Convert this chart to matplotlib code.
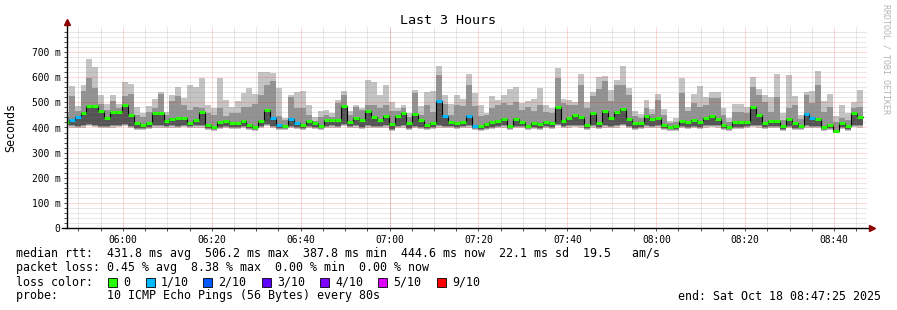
import numpy as np
import matplotlib
matplotlib.use("Agg")
import matplotlib.pyplot as plt
from matplotlib.patches import Rectangle

plt.rcParams['font.family'] = 'DejaVu Sans Mono'

W, H = 897, 310

# median rtt per 80 s step (ms), oldest first
rtt_median = [
    422, 430, 443, 456, 485, 485, 464, 439, 463, 463, 488, 449, 416, 410, 418, 457, 457, 424, 434, 439, 439, 419, 428,
    463, 410, 402, 421, 427, 418, 416, 427, 410, 402, 424, 471, 439, 410, 407, 433, 416, 408, 427, 416, 405, 429, 429,
    428, 487, 422, 439, 428, 465, 441, 429, 447, 412, 447, 457, 416, 455, 430, 410, 418, 505, 447, 422, 416, 422, 447,
    406, 404, 412, 420, 427, 432, 407, 435, 422, 407, 418, 412, 422, 416, 481, 427, 439, 449, 443, 410, 456, 416,
    465, 439, 463, 473, 435, 416, 418, 447, 435, 437, 410, 402, 407, 427, 420, 428, 420, 439, 447, 435, 410, 402, 420,
    420, 422, 481, 449, 416, 427, 427, 404, 435, 418, 407, 452, 437, 435, 401, 410, 386, 416, 404, 456, 443,
]
# slowest ping per step (top of the smoke)
rtt_max = [
    463, 565, 485, 569, 672, 640, 529, 494, 529, 494, 582, 574, 481, 456, 485, 513, 542, 463, 529, 561, 516, 569, 560,
    598, 489, 476, 598, 509, 483, 505, 536, 558, 532, 619, 619, 617, 558, 439, 529, 540, 545, 489, 441, 465, 468, 456,
    509, 545, 465, 489, 476, 590, 582, 529, 569, 500, 476, 489, 456, 550, 487, 540, 545, 646, 529, 492, 529, 513, 614,
    536, 489, 456, 526, 509, 529, 555, 563, 496, 505, 513, 558, 489, 476, 638, 513, 509, 500, 614, 502, 542, 602,
    603, 550, 590, 643, 558, 465, 452, 509, 473, 532, 473, 426, 436, 598, 483, 532, 566, 522, 542, 542, 479, 439, 492,
    492, 481, 601, 555, 529, 522, 614, 456, 609, 526, 449, 540, 545, 625, 505, 532, 447, 489, 456, 500, 548,
]
# second slowest ping per step
rtt_upper = [
    443, 526, 465, 545, 598, 558, 494, 468, 505, 479, 526, 534, 449, 443, 463, 476, 532, 449, 505, 526, 489, 469, 483,
    476, 456, 449, 479, 447, 456, 456, 483, 483, 492, 529, 569, 585, 447, 430, 522, 476, 479, 449, 426, 443, 449, 443,
    496, 529, 449, 481, 468, 489, 489, 476, 489, 465, 465, 476, 443, 537, 449, 489, 463, 609, 492, 449, 489, 487, 569,
    487, 447, 449, 476, 489, 496, 489, 502, 469, 483, 465, 489, 463, 456, 598, 496, 489, 489, 571, 476, 526, 555,
    585, 505, 569, 569, 529, 447, 439, 476, 452, 509, 449, 416, 423, 536, 465, 496, 483, 489, 516, 516, 449, 423, 463,
    463, 456, 562, 529, 502, 463, 522, 430, 476, 489, 434, 529, 496, 569, 463, 483, 423, 436, 430, 476, 483,
]
# fastest ping per step (bottom of the smoke)
rtt_min = [
    405, 400, 398, 400, 405, 403, 398, 398, 400, 402, 405, 398, 392, 392, 395, 400, 400, 398, 400, 398, 402, 398, 400,
    400, 392, 385, 395, 398, 395, 395, 398, 392, 388, 398, 405, 398, 390, 390, 398, 395, 390, 398, 395, 390, 398, 400,
    398, 405, 398, 400, 395, 400, 398, 398, 400, 388, 398, 400, 392, 398, 395, 390, 395, 400, 398, 398, 395, 398, 400,
    390, 385, 390, 395, 398, 400, 390, 398, 398, 390, 395, 392, 398, 395, 405, 398, 400, 402, 400, 392, 400, 395,
    400, 398, 400, 405, 398, 392, 395, 400, 398, 400, 390, 385, 388, 398, 395, 398, 395, 400, 402, 400, 392, 385, 395,
    395, 398, 402, 400, 395, 398, 398, 388, 398, 392, 390, 400, 398, 398, 385, 390, 378, 395, 385, 402, 400,
]
# lost pings (out of 10) per step
loss = [
    0, 1, 1, 0, 0, 0, 0, 0, 0, 0, 0, 0, 0, 0, 0, 0, 0, 0, 0, 0, 0, 0, 0,
    0, 0, 0, 0, 0, 0, 0, 0, 0, 0, 0, 0, 1, 1, 0, 1, 1, 0, 0, 0, 0, 0, 0,
    0, 0, 0, 0, 0, 0, 0, 0, 0, 0, 0, 0, 0, 0, 0, 0, 0, 1, 1, 0, 0, 0, 1,
    1, 0, 0, 0, 0, 0, 0, 0, 0, 0, 0, 0, 0, 0, 0, 0, 0, 0, 0, 0, 0, 0,
    0, 0, 0, 0, 0, 0, 0, 0, 0, 0, 0, 0, 0, 0, 0, 0, 0, 0, 0, 0, 0, 0, 0,
    0, 0, 0, 0, 0, 0, 0, 0, 0, 0, 0, 1, 1, 0, 0, 0, 0, 0, 0, 0, 0,
]

loss_labels = ['0', '1/10', '2/10', '3/10', '4/10', '5/10', '9/10']
loss_colors = ['#26ff00', '#00b8ff', '#0059ff', '#5e00ff', '#7e00ff', '#dd00ff', '#ff0000']
tick_labels = ['06:00', '06:20', '06:40', '07:00', '07:20', '07:40', '08:00', '08:20', '08:40']
y_labels = ['0', '100 m', '200 m', '300 m', '400 m', '500 m', '600 m', '700 m']

# time axis in minutes since 05:47:25 (graph start), 3 hours wide
step = 80 / 60
first_edge = 23 / 60 - step          # rrd steps are aligned, first one is cut
edges = first_edge + step * np.arange(len(rtt_median) + 1)
first_tick = 12 + 35 / 60            # 06:00


def stairs(v):
    return np.repeat(edges, 2)[1:-1], np.repeat(np.asarray(v, float), 2)


fig = plt.figure(figsize=(W / 100, H / 100), dpi=100)
fig.patch.set_facecolor('white')
ax = fig.add_axes([67 / W, (H - 228) / H, 800 / W, 201 / H])
ax.set_xlim(0, 180)
ax.set_ylim(0, 800)
for s in ax.spines.values():
    s.set_visible(False)

# smoke
x, lo = stairs(rtt_min)
_, hi = stairs(rtt_max)
_, up = stairs(rtt_upper)
_, md = stairs(rtt_median)
ax.fill_between(x, lo, hi, color='#c4c4c4', lw=0, zorder=1)
ax.fill_between(x, lo + 4, up, color='#939393', lw=0, zorder=2)
ax.fill_between(x, lo + 8, md, color='#545454', lw=0, zorder=3)

# grid drawn on top of the smoke, like rrdtool
for v in range(20, 800, 20):
    if v % 100:
        ax.axhline(v, color=(0.5, 0.5, 0.5, 0.35), lw=0.72, ls=(0, (1, 1)), zorder=4)
for v in range(100, 800, 100):
    ax.axhline(v, color=(1, 0, 0, 0.3), lw=0.72, ls=(0, (1, 1)), zorder=4)
for t in np.arange(first_tick - 10, 180, 5):
    if abs((t - first_tick) % 20) > 1e-6:
        ax.axvline(t, color=(0.5, 0.5, 0.5, 0.35), lw=0.72, ls=(0, (1, 1)), zorder=4)
major_t = first_tick + 20 * np.arange(len(tick_labels))
for t in major_t:
    ax.axvline(t, color=(1, 0, 0, 0.3), lw=0.72, ls=(0, (1, 1)), zorder=4)

# median line, coloured by loss
ax.plot(x, md, color='black', lw=0.8, zorder=5)
for i, m in enumerate(rtt_median):
    ax.hlines(m, max(edges[i], 0), edges[i + 1], color=loss_colors[loss[i]], lw=2.2, zorder=6)

# axes and ticks
ax.set_yticks(range(0, 800, 100))
ax.set_yticklabels(y_labels)
ax.set_yticks(range(0, 800, 20), minor=True)
ax.set_xticks(major_t)
ax.set_xticklabels(tick_labels)
ax.set_xticks(np.arange(first_tick - 10, 180, 5), minor=True)
ax.tick_params(which='both', direction='out', length=2.2, width=0.6, colors='#333333',
               labelcolor='black', labelsize=6.9, pad=2.6)
ax.plot([-0.006, 1.005], [0, 0], color='black', lw=1, transform=ax.transAxes, clip_on=False, zorder=7)
ax.plot([0, 0], [0, 1.02], color='black', lw=1, transform=ax.transAxes, clip_on=False, zorder=7)
ax.plot([1.006], [0], marker='>', ms=4, color='#8b0000', transform=ax.transAxes, clip_on=False, zorder=8)
ax.plot([0], [1.025], marker='^', ms=4, color='#8b0000', transform=ax.transAxes, clip_on=False, zorder=8)


def fx(px):
    return px / W


def fy(py):
    return 1 - py / H


fig.text(fx(448), fy(20), 'Last 3 Hours', ha='center', va='center', fontsize=9.6)
fig.text(fx(11), fy(127), 'Seconds', rotation=90, ha='center', va='center', fontsize=8.4)
fig.text(fx(886), fy(4), 'RRDTOOL / TOBI OETIKER', rotation=270, ha='center', va='top',
         fontsize=6, color='#b4b4b4')

fs = 8.4
fig.text(fx(16), fy(254), 'median rtt:  431.8 ms avg  506.2 ms max  387.8 ms min  444.6 ms now  22.1 ms sd  19.5   am/s',
         va='center', fontsize=fs)
fig.text(fx(16), fy(268), 'packet loss: 0.45 % avg  8.38 % max  0.00 % min  0.00 % now', va='center', fontsize=fs)
fig.text(fx(16), fy(282), 'loss color:', va='center', fontsize=fs)
box_x = [108, 146, 203, 262, 320, 378, 437]
for bx, lab, col in zip(box_x, loss_labels, loss_colors):
    fig.patches.append(Rectangle((fx(bx), fy(286.5)), 9 / W, 9 / H, transform=fig.transFigure,
                                 facecolor=col, edgecolor='black', lw=0.6))
    fig.text(fx(bx + 15), fy(282), lab, va='center', fontsize=fs)
fig.text(fx(16), fy(296), 'probe:       10 ICMP Echo Pings (56 Bytes) every 80s', va='center', fontsize=fs)
fig.text(fx(881), fy(296), 'end: Sat Oct 18 08:47:25 2025', ha='right', va='center', fontsize=fs)

fig.savefig('out.png', dpi=100)
